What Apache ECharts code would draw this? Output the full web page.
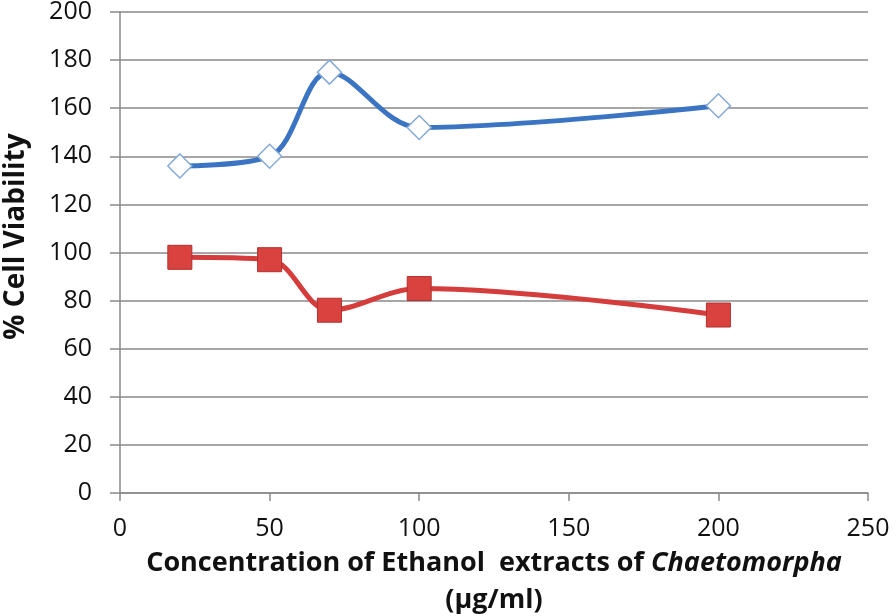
<!DOCTYPE html>
<html><head><meta charset="utf-8">
<script src="https://cdn.jsdelivr.net/npm/echarts@6/dist/echarts.min.js"></script>
<style>html,body{margin:0;padding:0;background:#fff}#c{width:896px;height:616px}</style>
</head><body><div id="c"></div>
<script>
const concentrations = [20, 50, 70, 100, 200];
const blueValues = [136, 140, 175, 152, 161];
const redValues = [98, 97, 76, 85, 74];
const yTicks = {min: 0, max: 200, interval: 20};
const xTicks = {min: 0, max: 250, interval: 50};

const chart = echarts.init(document.getElementById('c'));
const font = '"Open Sans", Lato, sans-serif';
chart.setOption({
  animation: false,
  grid: {left: 120, top: 12, right: 28, bottom: 123, containLabel: false, outerBoundsMode: 'none'},
  xAxis: {
    type: 'value', min: xTicks.min, max: xTicks.max, interval: xTicks.interval,
    axisLine: {show: true, onZero: false, lineStyle: {color: '#8a8a8a', width: 1.5}},
    axisTick: {show: true, length: 8, lineStyle: {color: '#8a8a8a', width: 1.5}},
    splitLine: {show: false},
    axisLabel: {color: '#111', fontSize: 25, fontFamily: font, margin: 23},
    name: '{n|Concentration of Ethanol  extracts of }{i|Chaetomorpha}\n{n|(µg/ml)}',
    nameLocation: 'middle', nameGap: 52,
    nameTextStyle: {
      rich: {
        n: {fontSize: 27, fontFamily: font, fontWeight: 'bold', color: '#111', lineHeight: 37},
        i: {fontSize: 27, fontFamily: font, fontWeight: 'bold', fontStyle: 'italic', color: '#111', lineHeight: 37}
      }
    }
  },
  yAxis: {
    type: 'value', min: yTicks.min, max: yTicks.max, interval: yTicks.interval,
    axisLine: {show: true, lineStyle: {color: '#8a8a8a', width: 1.5}},
    axisTick: {show: true, length: 10, lineStyle: {color: '#8a8a8a', width: 1.5}},
    splitLine: {show: true, lineStyle: {color: '#8a8a8a', width: 1.5}},
    axisLabel: {color: '#111', fontSize: 25, fontFamily: font, margin: 28},
    name: '% Cell Viability', nameLocation: 'middle', nameGap: 90,
    nameTextStyle: {fontSize: 28, fontWeight: 'bold', fontFamily: font, color: '#111', padding: [0, 0, 0, 32]}
  },
  series: [
    {
      type: 'line', smooth: 0.35,
      data: concentrations.map((x, i) => [x, blueValues[i]]),
      lineStyle: {color: '#3a74c2', width: 5},
      symbol: 'diamond', symbolSize: 24,
      itemStyle: {color: '#ffffff', borderColor: '#86aad6', borderWidth: 1.5},
      z: 3
    },
    {
      type: 'line', smooth: 0.35,
      data: concentrations.map((x, i) => [x, redValues[i]]),
      lineStyle: {color: '#d53c3c', width: 5},
      symbol: 'rect', symbolSize: 24,
      itemStyle: {color: '#d9423e', borderColor: '#b0302e', borderWidth: 1},
      z: 2
    }
  ]
});
</script></body></html>
